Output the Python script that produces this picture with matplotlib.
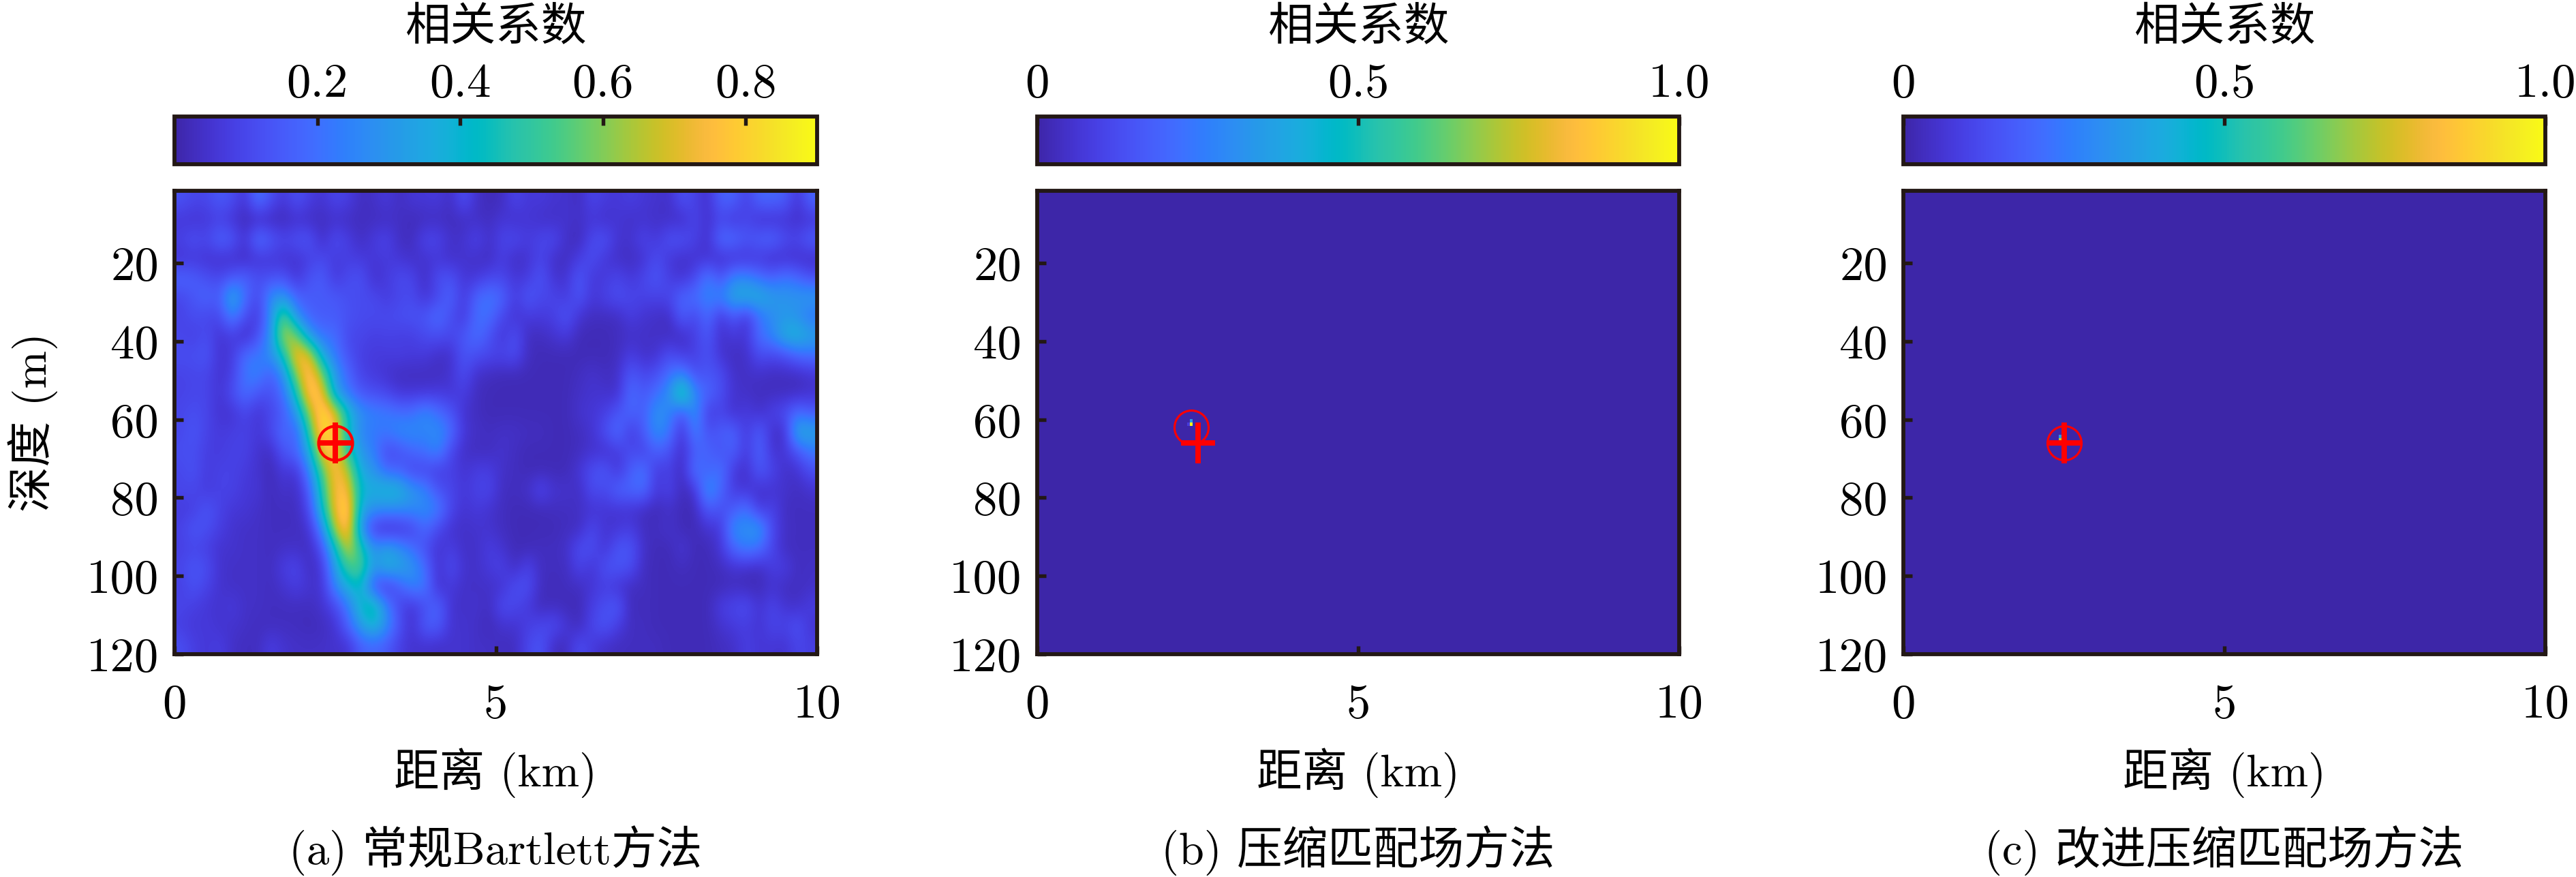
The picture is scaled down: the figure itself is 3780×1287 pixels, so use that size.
import numpy as np
import matplotlib
matplotlib.use("Agg")
import matplotlib.pyplot as plt
from matplotlib.colors import LinearSegmentedColormap

W, H = 3780, 1287
FAM = ['cmr10', 'Noto Sans CJK SC', 'DejaVu Sans']
plt.rcParams['font.family'] = FAM
plt.rcParams['axes.unicode_minus'] = False
plt.rcParams['axes.formatter.use_mathtext'] = True

PARULA = [
(0.2422,0.1504,0.6603),(0.2504,0.1650,0.7076),(0.2578,0.1818,0.7511),(0.2647,0.1978,0.7952),
(0.2706,0.2147,0.8364),(0.2751,0.2342,0.8710),(0.2783,0.2559,0.8991),(0.2803,0.2782,0.9221),
(0.2813,0.3006,0.9414),(0.2810,0.3228,0.9579),(0.2795,0.3447,0.9717),(0.2760,0.3667,0.9829),
(0.2699,0.3892,0.9906),(0.2602,0.4123,0.9952),(0.2440,0.4358,0.9988),(0.2206,0.4603,0.9973),
(0.1963,0.4847,0.9892),(0.1834,0.5074,0.9798),(0.1786,0.5289,0.9682),(0.1764,0.5499,0.9520),
(0.1687,0.5703,0.9359),(0.1540,0.5902,0.9218),(0.1460,0.6091,0.9079),(0.1380,0.6276,0.8973),
(0.1248,0.6459,0.8883),(0.1113,0.6635,0.8763),(0.0952,0.6798,0.8598),(0.0689,0.6948,0.8394),
(0.0297,0.7082,0.8163),(0.0036,0.7203,0.7917),(0.0067,0.7312,0.7660),(0.0433,0.7411,0.7394),
(0.0964,0.7500,0.7120),(0.1408,0.7584,0.6842),(0.1717,0.7670,0.6554),(0.1938,0.7758,0.6251),
(0.2161,0.7843,0.5923),(0.2470,0.7918,0.5567),(0.2906,0.7973,0.5188),(0.3406,0.8008,0.4789),
(0.3909,0.8029,0.4354),(0.4456,0.8024,0.3909),(0.5044,0.7993,0.3480),(0.5616,0.7942,0.3045),
(0.6174,0.7876,0.2612),(0.6720,0.7793,0.2227),(0.7242,0.7698,0.1910),(0.7738,0.7598,0.1646),
(0.8203,0.7498,0.1535),(0.8634,0.7406,0.1596),(0.9035,0.7330,0.1774),(0.9393,0.7288,0.2100),
(0.9728,0.7298,0.2394),(0.9956,0.7434,0.2371),(0.9970,0.7659,0.2199),(0.9952,0.7893,0.2028),
(0.9892,0.8136,0.1885),(0.9786,0.8386,0.1766),(0.9676,0.8639,0.1643),(0.9610,0.8890,0.1537),
(0.9597,0.9135,0.1423),(0.9628,0.9373,0.1265),(0.9691,0.9606,0.1064),(0.9769,0.9839,0.0805)]
cmap = LinearSegmentedColormap.from_list('parula', PARULA, N=256)

# correlation: rows go down in depth, columns run from 0 to 10 km
left_half = [
[.13,.10,.10,.15,.12,.05,.22,.12,.06,.13,.08,.05,.10,.08,.03,.04,.07,.03,.06,.06,.07,.03,.13,.04,.02],
[.06,.05,.06,.08,.05,.02,.02,.02,.02,.04,.03,.03,.04,.03,.03,.03,.03,.04,.02,.03,.03,.03,.03,.04,.03],
[.09,.13,.10,.18,.15,.05,.22,.15,.10,.13,.14,.03,.12,.08,.03,.07,.10,.03,.03,.10,.10,.04,.05,.10,.04],
[.05,.06,.05,.04,.04,.03,.05,.06,.05,.05,.08,.11,.07,.08,.07,.06,.07,.06,.04,.05,.06,.04,.05,.04,.03],
[.18,.16,.12,.10,.14,.17,.12,.12,.13,.05,.13,.16,.06,.11,.13,.04,.07,.11,.10,.03,.12,.13,.06,.06,.10],
[.10,.14,.18,.15,.38,.20,.09,.28,.30,.17,.15,.15,.15,.12,.11,.11,.07,.10,.11,.05,.10,.18,.06,.18,.22],
[.09,.12,.10,.10,.25,.12,.06,.27,.58,.27,.17,.15,.15,.13,.11,.11,.11,.12,.13,.14,.20,.12,.06,.20,.20],
[.10,.08,.12,.05,.08,.02,.12,.28,.68,.60,.30,.20,.20,.10,.10,.08,.09,.08,.08,.11,.12,.10,.14,.20,.13],
[.12,.12,.14,.05,.07,.20,.22,.28,.45,.78,.72,.35,.22,.13,.08,.07,.07,.08,.07,.07,.04,.04,.14,.12,.10],
[.09,.10,.10,.05,.08,.22,.25,.15,.28,.62,.82,.60,.30,.18,.09,.07,.05,.03,.03,.03,.03,.05,.12,.04,.03],
[.09,.10,.10,.05,.12,.20,.13,.12,.20,.45,.82,.76,.33,.22,.14,.12,.10,.06,.06,.06,.07,.06,.08,.03,.02],
[.10,.12,.10,.05,.05,.10,.05,.10,.15,.30,.62,.86,.72,.42,.28,.24,.23,.20,.20,.27,.20,.14,.05,.03,.02],
[.10,.14,.09,.07,.08,.09,.06,.10,.20,.15,.50,.85,.78,.42,.25,.22,.22,.27,.27,.25,.28,.20,.06,.04,.03],
[.12,.12,.08,.07,.09,.09,.05,.03,.14,.18,.35,.76,.78,.48,.30,.24,.10,.12,.18,.20,.26,.10,.04,.03,.03],
[.10,.13,.07,.09,.09,.07,.05,.02,.07,.05,.25,.55,.78,.66,.35,.30,.18,.17,.09,.10,.07,.09,.05,.08,.08],
[.10,.10,.07,.09,.09,.06,.06,.02,.05,.03,.15,.48,.76,.76,.40,.38,.42,.40,.30,.25,.13,.10,.06,.09,.10],
[.07,.08,.14,.09,.06,.06,.04,.03,.03,.03,.10,.42,.74,.85,.35,.28,.27,.27,.27,.27,.24,.10,.05,.07,.05],
[.09,.14,.12,.08,.05,.04,.04,.03,.03,.03,.05,.25,.66,.82,.28,.06,.02,.04,.08,.19,.10,.05,.04,.05,.05],
[.08,.10,.08,.05,.05,.04,.04,.03,.04,.04,.03,.12,.42,.70,.48,.28,.34,.28,.20,.12,.05,.08,.04,.04,.08],
[.10,.14,.12,.05,.04,.04,.04,.03,.08,.10,.03,.06,.32,.52,.55,.30,.38,.35,.30,.20,.04,.12,.05,.04,.07],
[.08,.13,.09,.05,.04,.04,.04,.03,.05,.08,.05,.05,.25,.38,.42,.12,.05,.15,.25,.22,.04,.07,.04,.04,.04],
[.10,.08,.06,.05,.07,.04,.04,.03,.03,.03,.03,.05,.10,.22,.42,.48,.25,.10,.05,.12,.18,.05,.04,.05,.03],
[.08,.06,.07,.05,.05,.04,.03,.03,.03,.03,.02,.03,.05,.17,.32,.42,.28,.13,.04,.16,.16,.05,.05,.04,.02],
[.12,.08,.06,.08,.04,.03,.03,.08,.05,.04,.04,.04,.05,.05,.16,.18,.15,.08,.05,.05,.04,.05,.05,.04,.04],
]
right_half = [
[.03,.10,.06,.07,.05,.05,.03,.10,.07,.06,.08,.06,.05,.04,.13,.09,.04,.17,.17,.08,.18,.18,.16,.05,.18],
[.06,.04,.06,.04,.04,.05,.04,.06,.04,.06,.04,.05,.04,.04,.03,.10,.04,.10,.05,.10,.04,.04,.05,.04,.05],
[.10,.11,.07,.10,.11,.04,.02,.11,.13,.05,.05,.10,.06,.13,.13,.09,.04,.20,.20,.14,.17,.19,.12,.10,.17],
[.08,.03,.05,.10,.04,.03,.08,.12,.06,.04,.03,.05,.12,.06,.04,.05,.05,.04,.04,.05,.06,.03,.04,.04,.03],
[.10,.06,.07,.14,.05,.05,.15,.06,.07,.10,.06,.10,.14,.08,.05,.10,.24,.12,.26,.26,.20,.17,.22,.18,.12],
[.18,.07,.15,.10,.10,.07,.14,.06,.09,.12,.10,.09,.09,.10,.18,.20,.25,.25,.36,.38,.38,.32,.30,.30,.32],
[.10,.05,.07,.07,.08,.14,.05,.03,.03,.03,.08,.05,.04,.03,.17,.09,.20,.05,.15,.05,.20,.27,.30,.28,.20],
[.05,.13,.03,.03,.05,.07,.02,.02,.02,.03,.04,.04,.04,.03,.03,.08,.15,.04,.07,.05,.20,.25,.38,.40,.34],
[.10,.12,.03,.02,.02,.02,.02,.02,.02,.03,.08,.04,.05,.12,.07,.08,.13,.05,.03,.04,.12,.10,.12,.18,.20],
[.02,.02,.02,.02,.02,.02,.03,.05,.03,.04,.15,.10,.12,.20,.25,.12,.14,.12,.04,.04,.04,.03,.03,.03,.05],
[.02,.02,.02,.02,.02,.02,.04,.05,.05,.04,.20,.14,.20,.28,.55,.25,.18,.12,.05,.04,.03,.03,.03,.03,.05],
[.02,.02,.02,.02,.02,.02,.05,.06,.08,.14,.18,.15,.30,.25,.12,.30,.06,.10,.04,.08,.04,.09,.12,.20,.15],
[.04,.04,.03,.03,.02,.02,.03,.05,.12,.20,.06,.15,.28,.22,.04,.25,.12,.16,.18,.06,.17,.04,.04,.38,.35],
[.05,.03,.02,.02,.02,.02,.03,.05,.04,.07,.12,.08,.17,.13,.03,.16,.18,.12,.17,.06,.18,.05,.06,.13,.22],
[.04,.03,.02,.02,.02,.02,.06,.12,.15,.05,.16,.22,.06,.09,.02,.22,.16,.22,.06,.04,.15,.10,.04,.05,.12],
[.03,.03,.04,.11,.05,.05,.03,.12,.10,.18,.18,.20,.06,.10,.02,.05,.30,.18,.07,.06,.04,.05,.05,.03,.05],
[.03,.02,.02,.02,.03,.03,.04,.05,.06,.05,.05,.03,.02,.04,.02,.02,.15,.12,.15,.22,.06,.10,.03,.03,.03],
[.03,.02,.02,.02,.02,.03,.03,.11,.05,.06,.08,.03,.03,.05,.02,.02,.05,.06,.28,.28,.32,.10,.04,.03,.03],
[.05,.02,.02,.03,.03,.04,.12,.12,.05,.14,.14,.04,.02,.02,.06,.02,.02,.06,.18,.24,.20,.10,.03,.03,.03],
[.09,.03,.10,.03,.03,.03,.10,.05,.13,.14,.12,.03,.02,.02,.03,.02,.02,.03,.05,.04,.03,.08,.08,.03,.04],
[.05,.12,.12,.03,.02,.03,.03,.06,.08,.05,.03,.03,.02,.02,.02,.02,.02,.02,.03,.02,.02,.05,.03,.03,.04],
[.12,.10,.07,.02,.03,.02,.02,.08,.12,.15,.02,.03,.02,.02,.02,.02,.02,.08,.10,.12,.05,.10,.05,.04,.08],
[.05,.05,.08,.10,.12,.06,.02,.10,.14,.08,.03,.03,.02,.02,.02,.02,.02,.05,.07,.08,.05,.10,.09,.13,.05],
[.03,.03,.10,.14,.03,.03,.12,.07,.04,.03,.03,.03,.03,.02,.02,.02,.02,.03,.04,.08,.06,.06,.05,.10,.08],
]
grid_a = np.hstack([np.array(left_half), np.array(right_half)])

# isolated peaks of panels (b) and (c): range km, depth m, correlation
peaks_b = [(2.375, 61.0, 1.0), (2.375, 60.0, 0.35), (2.335, 61.0, 0.08)]
peaks_c = [(2.45, 65.0, 0.75), (2.45, 64.0, 0.35)]
source = (2.5, 66.0)
estimate_a = (2.5, 66.0)
estimate_b = (2.4, 62.0)
estimate_c = (2.5, 66.0)

x_ticks = [0, 5, 10]
y_ticks = [20, 40, 60, 80, 100, 120]
cbar_ticks_a = [0.2, 0.4, 0.6, 0.8]
cbar_labels_a = ['0.2', '0.4', '0.6', '0.8']
cbar_ticks_bc = [0, 0.5, 1.0]
cbar_labels_bc = ['0', '0.5', '1.0']
captions = ['(a) 常规Bartlett方法', '(b) 压缩匹配场方法', '(c) 改进压缩匹配场方法']

DARK = '#231815'
FS_NUM = 17
FS_CJK = 16
Y_TOP = 1.5
PANELS_PX = [(256, 1199), (1522, 2464), (2793, 3735)]
AX_Y = (280, 960)
CB_Y = (171, 241)


def px_axes(x0, x1, y0, y1):
    return fig.add_axes([x0 / W, 1 - y1 / H, (x1 - x0) / W, (y1 - y0) / H])


def peak_grid(peaks, ny=150, nx=236):
    g = np.zeros((ny, nx))
    for px_, py_, v in peaks:
        i = int((py_ - Y_TOP) / (120 - Y_TOP) * ny)
        j = int(px_ / 10 * nx)
        g[i, j] = v
    return g


fig = plt.figure(figsize=(W / 300, H / 300), dpi=300, facecolor='white')

sets = [
    (grid_a, 0.9, 'bicubic', cbar_ticks_a, cbar_labels_a, estimate_a),
    (peak_grid(peaks_b), 1.0, 'nearest', cbar_ticks_bc, cbar_labels_bc, estimate_b),
    (peak_grid(peaks_c), 1.0, 'nearest', cbar_ticks_bc, cbar_labels_bc, estimate_c),
]

for k, ((x0, x1), (g, vmax, interp, cticks, clabels, est)) in enumerate(zip(PANELS_PX, sets)):
    ax = px_axes(x0, x1, *AX_Y)
    im = ax.imshow(g, cmap=cmap, vmin=0, vmax=vmax, aspect='auto',
                   extent=(0, 10, 120, Y_TOP), interpolation=interp)
    ax.set_xlim(0, 10)
    ax.set_ylim(120, Y_TOP)
    ax.set_xticks(x_ticks)
    ax.set_xticklabels([str(v) for v in x_ticks], fontsize=FS_NUM)
    ax.set_yticks(y_ticks)
    ax.set_yticklabels([str(v) for v in y_ticks], fontsize=FS_NUM)
    ax.tick_params(direction='in', length=3.0, width=1.3, color=DARK, pad=5.5)
    ax.tick_params(axis='x', pad=10.4)
    for s in ax.spines.values():
        s.set_linewidth(1.4)
        s.set_color(DARK)
    ax.set_xlabel('距离 (km)', fontsize=FS_CJK, labelpad=7.2)
    if k == 0:
        ax.set_ylabel('深度 (m)', fontsize=FS_CJK, labelpad=10)
    # estimated position: circle; true source: thick red plus
    ax.plot([est[0]], [est[1]], 'o', ms=12, mfc='none', mec='#ff0000', mew=0.75 if k else 1.0, zorder=4)
    ax.plot([source[0]], [source[1]], '|', ms=14.6, mec='#ff0000', mew=1.9, zorder=5)
    ax.plot([source[0]], [source[1]], '_', ms=12.2, mec='#ff0000', mew=1.9, zorder=5)
    fig.text((x0 + x1) / 2 / W, 1 - 1248 / H, captions[k], fontsize=FS_CJK,
             ha='center', va='center')

    cax = px_axes(x0, x1, *CB_Y)
    cb = fig.colorbar(im, cax=cax, orientation='horizontal')
    cb.set_ticks(cticks)
    cb.set_ticklabels(clabels, fontsize=FS_NUM)
    cax.xaxis.set_ticks_position('top')
    cax.xaxis.set_label_position('top')
    cax.tick_params(direction='in', length=3.0, width=1.3, color=DARK, pad=3.6)
    cax.minorticks_off()
    cb.outline.set_linewidth(1.4)
    cb.outline.set_edgecolor(DARK)
    cb.set_label('相关系数', fontsize=FS_CJK, labelpad=8)

fig.savefig('out.png', dpi=300, facecolor='white')
